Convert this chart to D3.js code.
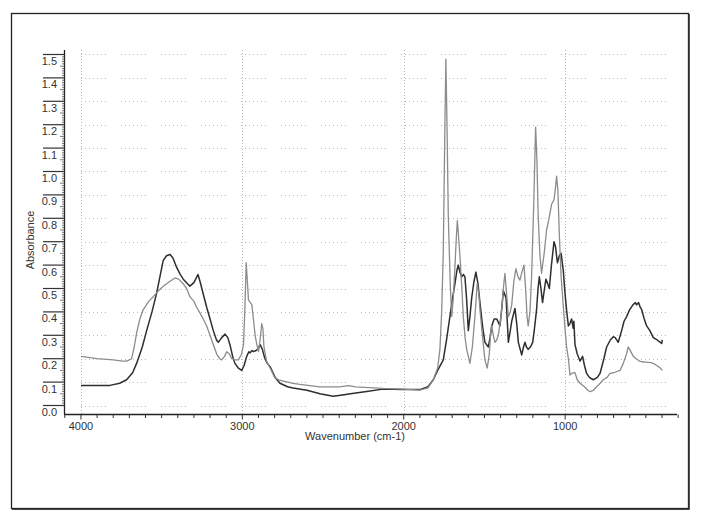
<!DOCTYPE html>
<html>
<head>
<meta charset="utf-8">
<script src="https://cdn.jsdelivr.net/npm/d3@7"></script>
<style>
  html, body { margin: 0; padding: 0; background: #fff; }
  svg { display: block; }
  text { font-family: "Liberation Sans", Arial, sans-serif; fill: #333; }
</style>
</head>
<body>
<svg id="chart" width="702" height="522"></svg>
<script>
// ---- data (wavenumber cm-1, absorbance) ----
const darkWavenumbers = [4000,3900,3820,3760,3717,3680,3655,3620,3593,3560,3531,3505,3490,3470,3448,3430,3407,3385,3366,3340,3325,3300,3275,3262,3240,3221,3200,3180,3160,3149,3128,3107,3090,3077,3060,3046,3025,3004,2990,2973,2960,2952,2940,2931,2915,2900,2890,2876,2860,2845,2828,2810,2797,2767,2720,2686,2600,2519,2437,2380,2330,2230,2129,2000,1900,1850,1817,1790,1755,1735,1714,1695,1683,1670,1662,1652,1641,1630,1621,1610,1600,1590,1579,1565,1553,1540,1528,1510,1497,1476,1465,1455,1440,1424,1404,1392,1383,1366,1352,1340,1331,1311,1300,1290,1269,1258,1249,1240,1229,1215,1201,1190,1177,1168,1160,1150,1140,1128,1119,1108,1098,1085,1069,1060,1048,1036,1025,1012,1001,990,980,970,960,950,946,939,925,908,892,880,867,850,826,800,784,760,743,720,702,690,671,650,635,619,600,580,565,557,545,535,526,510,495,475,454,430,410,402,398];
const darkAbsorbance = [0.085,0.085,0.086,0.095,0.11,0.14,0.18,0.25,0.32,0.40,0.48,0.57,0.62,0.64,0.645,0.63,0.59,0.56,0.54,0.52,0.51,0.525,0.56,0.53,0.47,0.42,0.37,0.32,0.28,0.27,0.29,0.305,0.29,0.26,0.21,0.18,0.16,0.15,0.17,0.21,0.23,0.225,0.235,0.23,0.235,0.245,0.26,0.24,0.2,0.18,0.166,0.14,0.12,0.095,0.08,0.075,0.065,0.05,0.04,0.045,0.05,0.06,0.07,0.068,0.068,0.08,0.11,0.15,0.195,0.28,0.38,0.47,0.52,0.58,0.60,0.57,0.55,0.56,0.55,0.45,0.32,0.38,0.46,0.53,0.57,0.52,0.44,0.33,0.27,0.25,0.29,0.34,0.37,0.37,0.34,0.42,0.49,0.46,0.27,0.32,0.36,0.415,0.35,0.27,0.216,0.25,0.27,0.25,0.24,0.25,0.27,0.33,0.41,0.50,0.55,0.50,0.44,0.50,0.54,0.52,0.50,0.60,0.70,0.68,0.61,0.64,0.65,0.58,0.48,0.40,0.34,0.35,0.37,0.33,0.36,0.26,0.22,0.19,0.21,0.17,0.137,0.12,0.11,0.12,0.137,0.2,0.25,0.28,0.294,0.29,0.27,0.32,0.36,0.38,0.41,0.43,0.44,0.43,0.44,0.42,0.41,0.37,0.34,0.32,0.29,0.28,0.27,0.265,0.28];

const lightWavenumbers = [4000,3900,3800,3740,3717,3700,3686,3670,3655,3635,3614,3580,3552,3520,3490,3450,3418,3395,3366,3345,3325,3300,3283,3250,3221,3190,3159,3140,3128,3110,3097,3080,3066,3045,3024,3005,2993,2985,2976,2968,2962,2950,2941,2930,2921,2910,2900,2890,2880,2873,2866,2850,2828,2800,2776,2686,2643,2519,2400,2340,2300,2129,2000,1900,1850,1817,1790,1776,1765,1755,1745,1739,1732,1724,1712,1703,1693,1683,1674,1668,1660,1652,1640,1631,1620,1610,1590,1575,1559,1545,1535,1528,1510,1497,1483,1470,1460,1455,1445,1435,1424,1414,1400,1393,1380,1373,1362,1352,1340,1331,1318,1305,1292,1280,1268,1255,1245,1236,1229,1218,1208,1195,1183,1175,1167,1157,1146,1130,1115,1100,1084,1069,1060,1053,1045,1036,1025,1011,1000,991,980,970,960,950,939,925,908,880,860,846,825,805,790,764,740,722,700,660,640,620,609,600,578,560,540,526,500,470,454,430,410,398];
const lightAbsorbance = [0.21,0.2,0.195,0.19,0.19,0.195,0.20,0.25,0.31,0.37,0.41,0.445,0.465,0.49,0.51,0.53,0.545,0.54,0.52,0.50,0.465,0.445,0.42,0.38,0.34,0.28,0.22,0.2,0.195,0.21,0.23,0.22,0.2,0.195,0.195,0.22,0.26,0.40,0.61,0.52,0.45,0.44,0.43,0.36,0.30,0.26,0.23,0.28,0.35,0.33,0.25,0.19,0.16,0.12,0.11,0.095,0.09,0.08,0.08,0.085,0.08,0.073,0.07,0.066,0.075,0.11,0.16,0.24,0.40,0.66,1.20,1.48,1.20,0.81,0.52,0.38,0.46,0.59,0.72,0.79,0.72,0.64,0.50,0.38,0.29,0.24,0.18,0.25,0.38,0.52,0.48,0.41,0.28,0.195,0.16,0.22,0.32,0.34,0.30,0.27,0.28,0.30,0.37,0.41,0.52,0.565,0.47,0.38,0.40,0.43,0.53,0.585,0.55,0.536,0.57,0.60,0.50,0.38,0.34,0.40,0.55,0.85,1.19,1.05,0.81,0.65,0.565,0.65,0.75,0.80,0.86,0.88,0.93,0.98,0.92,0.73,0.55,0.42,0.32,0.25,0.20,0.13,0.137,0.14,0.14,0.11,0.095,0.08,0.065,0.059,0.065,0.08,0.09,0.11,0.12,0.137,0.14,0.15,0.18,0.22,0.25,0.24,0.21,0.2,0.19,0.187,0.185,0.183,0.18,0.17,0.16,0.15];

const yTickValues = [0.0,0.1,0.2,0.3,0.4,0.5,0.6,0.7,0.8,0.9,1.0,1.1,1.2,1.3,1.4,1.5];
const xTickValues = [4000,3000,2000,1000];
const xLabel = "Wavenumber (cm-1)";
const yLabel = "Absorbance";

// ---- drawing ----
const svg = d3.select("#chart");
svg.append("rect").attr("width",702).attr("height",522).attr("fill","#fff");

// outer frame
svg.append("rect").attr("x",11.5).attr("y",13.5).attr("width",677).attr("height",495)
  .attr("fill","none").attr("stroke","#222").attr("stroke-width",1.3);
svg.append("line").attr("x1",12).attr("x2",689.5).attr("y1",509.3).attr("y2",509.3).attr("stroke","#444").attr("stroke-width",1.2);
svg.append("line").attr("x1",689.3).attr("x2",689.3).attr("y1",14).attr("y2",509.5).attr("stroke","#444").attr("stroke-width",1.2);

const x = d3.scaleLinear().domain([4105, 307]).range([64, 677]);
const y = d3.scaleLinear().domain([-0.0363, 1.5192]).range([414, 50]);

// grid
const gridColor = "#b8b8b8";
const g = svg.append("g");
g.selectAll(".hg").data(yTickValues).enter().append("line")
  .attr("x1", x(4000)).attr("x2", 677)
  .attr("y1", d => Math.round(y(d)) + 0.5).attr("y2", d => Math.round(y(d)) + 0.5)
  .attr("stroke", gridColor).attr("stroke-width", 1)
  .attr("stroke-dasharray", "1,3,1,3,1,3,1,3,1,3,1,3,1,15");
g.selectAll(".vg").data(xTickValues).enter().append("line")
  .attr("x1", d => Math.round(x(d)) + 0.5).attr("x2", d => Math.round(x(d)) + 0.5)
  .attr("y1", 50).attr("y2", 414)
  .attr("stroke", gridColor).attr("stroke-width", 1)
  .attr("stroke-dasharray", "1,2");

// Y axis
const yAxisX = 64.5;
svg.append("line").attr("x1",yAxisX).attr("x2",yAxisX).attr("y1",50).attr("y2",414.5)
  .attr("stroke","#222").attr("stroke-width",1.3);
const minorY = d3.range(0, 151).map(i => i / 100);
svg.selectAll(".ymin").data(minorY).enter().append("line")
  .attr("x1", d => Math.round(d*100) % 10 === 0 ? 43 : (Math.round(d*100) % 5 === 0 ? yAxisX - 4.5 : yAxisX - 2.5))
  .attr("x2", yAxisX)
  .attr("y1", d => y(d)).attr("y2", d => y(d))
  .attr("stroke", d => Math.round(d*100) % 10 === 0 ? "#333" : "#555")
  .attr("stroke-width", d => Math.round(d*100) % 10 === 0 ? 1.2 : 0.8);
svg.selectAll(".ylab").data(yTickValues).enter().append("text")
  .attr("x", 57).attr("y", d => y(d) + 10.5)
  .attr("text-anchor","end").attr("font-size","11px")
  .text(d => d3.format(".1f")(d));

// X axis
const xAxisY = 414.5;
svg.append("line").attr("x1",64).attr("x2",677).attr("y1",xAxisY).attr("y2",xAxisY)
  .attr("stroke","#222").attr("stroke-width",1.3);
const minorX = d3.range(300, 4101, 100);
svg.selectAll(".xmin").data(minorX).enter().append("line")
  .attr("x1", d => x(d)).attr("x2", d => x(d))
  .attr("y1", xAxisY).attr("y2", d => d % 1000 === 0 ? xAxisY + 5 : xAxisY + 3.5)
  .attr("stroke","#333").attr("stroke-width",1);
svg.selectAll(".xlab").data(xTickValues).enter().append("text")
  .attr("x", d => x(d)).attr("y", 430)
  .attr("text-anchor","middle").attr("font-size","11px")
  .text(d => d);

svg.append("text").attr("x", 355).attr("y", 440).attr("text-anchor","middle")
  .attr("font-size","11px").text(xLabel);
svg.append("text").attr("transform","translate(34,240) rotate(-90)")
  .attr("text-anchor","middle").attr("font-size","11px").text(yLabel);

// spectra
const mk = (ws, as) => ws.map((w, i) => [w, as[i]]);
const lineGen = d3.line().x(d => x(d[0])).y(d => y(d[1]));

svg.append("path").datum(mk(darkWavenumbers, darkAbsorbance))
  .attr("d", lineGen)
  .attr("fill","none").attr("stroke","#2e2e2e").attr("stroke-width",1.5).attr("stroke-linejoin","round");
svg.append("path").datum(mk(lightWavenumbers, lightAbsorbance))
  .attr("d", lineGen)
  .attr("fill","none").attr("stroke","#8c8c8c").attr("stroke-width",1.3).attr("stroke-linejoin","round");
</script>
</body>
</html>
